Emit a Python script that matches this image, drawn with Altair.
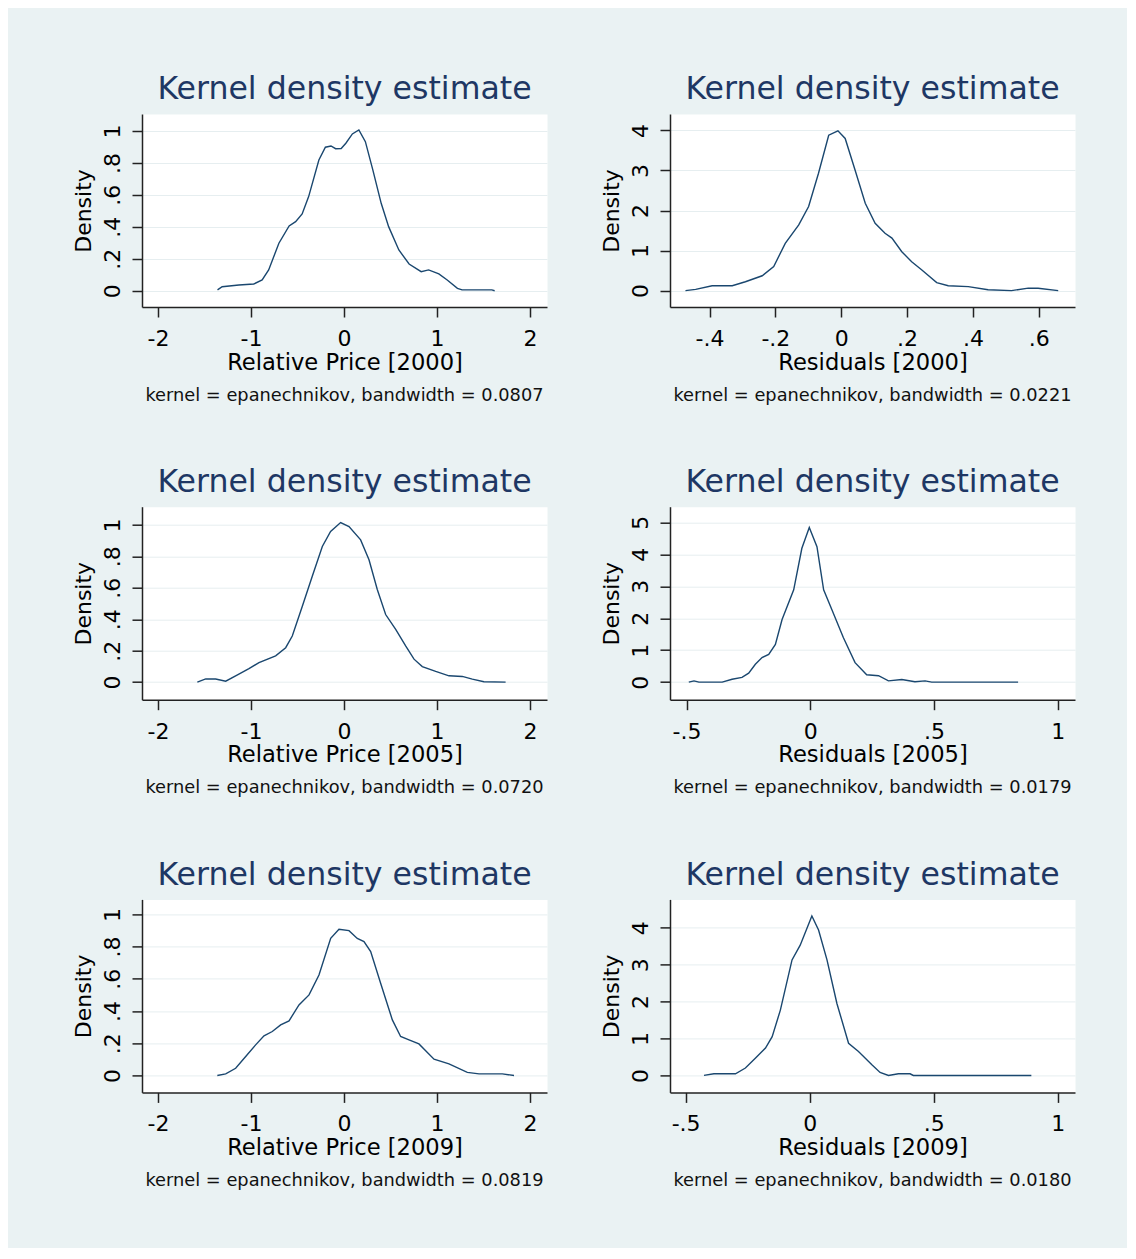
import altair as alt
import pandas as pd

# ---- data ----
rp2000_x = [-1.36, -1.31, -1.13, -0.97, -0.88, -0.81, -0.70, -0.59, -0.52, -0.45, -0.38, -0.27, -0.20, -0.14, -0.09, -0.03, 0.02, 0.09, 0.16, 0.23, 0.31, 0.40, 0.48, 0.59, 0.70, 0.83, 0.91, 1.02, 1.11, 1.22, 1.27, 1.59, 1.62]
rp2000_y = [0.005, 0.025, 0.036, 0.042, 0.067, 0.13, 0.297, 0.405, 0.432, 0.48, 0.589, 0.818, 0.898, 0.906, 0.889, 0.89, 0.923, 0.981, 1.006, 0.933, 0.756, 0.547, 0.401, 0.255, 0.167, 0.119, 0.13, 0.105, 0.067, 0.015, 0.005, 0.005, 0.0]

res2000_x = [-0.473, -0.442, -0.392, -0.331, -0.291, -0.240, -0.205, -0.170, -0.129, -0.099, -0.069, -0.038, -0.010, 0.012, 0.042, 0.073, 0.103, 0.133, 0.154, 0.184, 0.214, 0.244, 0.290, 0.325, 0.386, 0.446, 0.517, 0.568, 0.598, 0.659]
res2000_y = [0.0, 0.03, 0.12, 0.12, 0.22, 0.37, 0.6, 1.18, 1.64, 2.10, 2.93, 3.88, 3.99, 3.80, 3.01, 2.18, 1.68, 1.43, 1.31, 0.97, 0.72, 0.52, 0.20, 0.12, 0.10, 0.02, 0.0, 0.06, 0.06, 0.0]

rp2005_x = [-1.577, -1.487, -1.380, -1.272, -1.165, -1.022, -0.914, -0.735, -0.627, -0.556, -0.448, -0.341, -0.233, -0.144, -0.036, 0.054, 0.179, 0.269, 0.358, 0.448, 0.556, 0.663, 0.753, 0.842, 0.986, 1.129, 1.272, 1.380, 1.505, 1.738]
rp2005_y = [0.0, 0.02, 0.02, 0.006, 0.04, 0.086, 0.124, 0.167, 0.219, 0.293, 0.483, 0.673, 0.863, 0.958, 1.015, 0.989, 0.905, 0.778, 0.589, 0.430, 0.335, 0.230, 0.146, 0.099, 0.068, 0.040, 0.036, 0.019, 0.002, 0.0]

res2005_x = [-0.491, -0.470, -0.450, -0.356, -0.316, -0.276, -0.249, -0.222, -0.195, -0.168, -0.141, -0.114, -0.067, -0.034, -0.004, 0.027, 0.054, 0.087, 0.134, 0.181, 0.228, 0.276, 0.316, 0.370, 0.423, 0.464, 0.491, 0.840]
res2005_y = [0.0, 0.04, 0.0, 0.0, 0.09, 0.15, 0.28, 0.56, 0.77, 0.87, 1.18, 1.96, 2.89, 4.19, 4.84, 4.24, 2.89, 2.27, 1.39, 0.61, 0.23, 0.20, 0.04, 0.08, 0.01, 0.04, 0.0, 0.0]

rp2009_x = [-1.362, -1.272, -1.165, -1.057, -0.950, -0.860, -0.771, -0.681, -0.591, -0.484, -0.376, -0.269, -0.143, -0.054, 0.054, 0.143, 0.215, 0.287, 0.394, 0.520, 0.609, 0.699, 0.806, 0.968, 1.129, 1.326, 1.452, 1.703, 1.828]
rp2009_y = [0.0, 0.01, 0.045, 0.118, 0.190, 0.246, 0.273, 0.314, 0.339, 0.438, 0.500, 0.624, 0.851, 0.907, 0.899, 0.851, 0.831, 0.769, 0.572, 0.345, 0.242, 0.221, 0.196, 0.101, 0.072, 0.019, 0.010, 0.010, 0.0]

res2009_x = [-0.426, -0.386, -0.299, -0.259, -0.218, -0.178, -0.151, -0.118, -0.071, -0.038, 0.009, 0.036, 0.070, 0.110, 0.157, 0.197, 0.251, 0.284, 0.318, 0.358, 0.405, 0.418, 0.894]
res2009_y = [0.0, 0.045, 0.045, 0.2, 0.47, 0.74, 1.05, 1.77, 3.13, 3.53, 4.32, 3.94, 3.13, 1.95, 0.87, 0.65, 0.29, 0.08, 0.0, 0.045, 0.045, 0.0, 0.0]

x_titles = ["Relative Price [2000]", "Residuals [2000]",
            "Relative Price [2005]", "Residuals [2005]",
            "Relative Price [2009]", "Residuals [2009]"]
bandwidths = ["0.0807", "0.0221", "0.0720", "0.0179", "0.0819", "0.0180"]

rp_x_ticks = [-2, -1, 0, 1, 2]
rp_x_labels = ["-2", "-1", "0", "1", "2"]
rp_y_ticks = [0, 0.2, 0.4, 0.6, 0.8, 1]
rp_y_labels = ["0", ".2", ".4", ".6", ".8", "1"]
res2000_x_ticks = [-0.4, -0.2, 0, 0.2, 0.4, 0.6]
res2000_x_labels = ["-.4", "-.2", "0", ".2", ".4", ".6"]
res_x_ticks = [-0.5, 0, 0.5, 1]
res_x_labels = ["-.5", "0", ".5", "1"]
res4_y_ticks = [0, 1, 2, 3, 4]
res4_y_labels = ["0", "1", "2", "3", "4"]
res5_y_ticks = [0, 1, 2, 3, 4, 5]
res5_y_labels = ["0", "1", "2", "3", "4", "5"]

panels = [
    dict(xs=rp2000_x, ys=rp2000_y, xdom=[-2.172, 2.183], ydom=[-0.102, 1.106],
         xt=rp_x_ticks, xl=rp_x_labels, yt=rp_y_ticks, yl=rp_y_labels),
    dict(xs=res2000_x, ys=res2000_y, xdom=[-0.520, 0.710], ydom=[-0.41, 4.41],
         xt=res2000_x_ticks, xl=res2000_x_labels, yt=res4_y_ticks, yl=res4_y_labels),
    dict(xs=rp2005_x, ys=rp2005_y, xdom=[-2.172, 2.183], ydom=[-0.112, 1.116],
         xt=rp_x_ticks, xl=rp_x_labels, yt=rp_y_ticks, yl=rp_y_labels),
    dict(xs=res2005_x, ys=res2005_y, xdom=[-0.567, 1.07], ydom=[-0.55, 5.49],
         xt=res_x_ticks, xl=res_x_labels, yt=res5_y_ticks, yl=res5_y_labels),
    dict(xs=rp2009_x, ys=rp2009_y, xdom=[-2.172, 2.183], ydom=[-0.105, 1.093],
         xt=rp_x_ticks, xl=rp_x_labels, yt=rp_y_ticks, yl=rp_y_labels),
    dict(xs=res2009_x, ys=res2009_y, xdom=[-0.563, 1.07], ydom=[-0.46, 4.77],
         xt=res_x_ticks, xl=res_x_labels, yt=res4_y_ticks, yl=res4_y_labels),
]

W, H = 405, 193
NAVY = "#1a476f"
TITLE = "#1e3764"


def label_expr(vals, labs):
    expr = "''"
    for v, l in reversed(list(zip(vals, labs))):
        expr = f"(datum.value == {v} ? '{l}' : {expr})"
    return expr


def panel(p, xtitle, bw):
    df = pd.DataFrame({"x": p["xs"], "y": p["ys"]})
    line = alt.Chart(df).mark_line(color=NAVY, strokeWidth=1.4).encode(
        x=alt.X("x:Q",
                scale=alt.Scale(domain=p["xdom"], nice=False, zero=False),
                axis=alt.Axis(values=p["xt"], labelExpr=label_expr(p["xt"], p["xl"]),
                              title=xtitle, grid=False,
                              labelBaseline="alphabetic", labelPadding=28.5,
                              labelFlush=False, labelOverlap=False,
                              titleBaseline="alphabetic", titleY=62, titleX=W / 2,
                              titleAlign="center", titleFontSize=22.6)),
        y=alt.Y("y:Q",
                scale=alt.Scale(domain=p["ydom"], nice=False, zero=False),
                axis=alt.Axis(values=p["yt"], labelExpr=label_expr(p["yt"], p["yl"]),
                              title="Density", grid=True,
                              labelAngle=270, labelAlign="center", labelBaseline="alphabetic",
                              labelPadding=12.5, labelFlush=False, labelOverlap=False,
                              titleAngle=270, titleBaseline="alphabetic", titleAlign="center",
                              titleX=-52, titleY=H / 2)),
    )
    note = alt.Chart(pd.DataFrame({"t": [f"kernel = epanechnikov, bandwidth = {bw}"]})).mark_text(
        fontSize=17.8, align="center", baseline="alphabetic", color="#111111"
    ).encode(text="t:N", x=alt.value(W / 2), y=alt.value(H + 93.5))
    return alt.layer(line, note).properties(
        width=W, height=H,
        title=alt.TitleParams("Kernel density estimate", anchor="middle", frame="group",
                              fontSize=31.6, color=TITLE, fontWeight="normal",
                              baseline="alphabetic", offset=-17),
    )


charts = [panel(p, t, b) for p, t, b in zip(panels, x_titles, bandwidths)]

chart = alt.concat(*charts, columns=2, spacing={"row": 199.7, "column": 123}, bounds="flush").properties(
    padding={"left": 63, "top": 65, "right": 51, "bottom": 57},
    background="#EAF2F3",
).configure(font="DejaVu Sans").configure_view(
    stroke="transparent", fill="white"
).configure_axis(
    domainColor="#222222", domainWidth=1.5, tickColor="#222222", tickWidth=1.5, tickSize=10,
    labelFontSize=22, titleFontSize=22, labelColor="#000000", titleColor="#000000",
    titleFontWeight="normal", gridColor="#E6EEF0", gridWidth=1,
)

chart.save("out.html", embed_options={"renderer": "svg", "actions": False})
